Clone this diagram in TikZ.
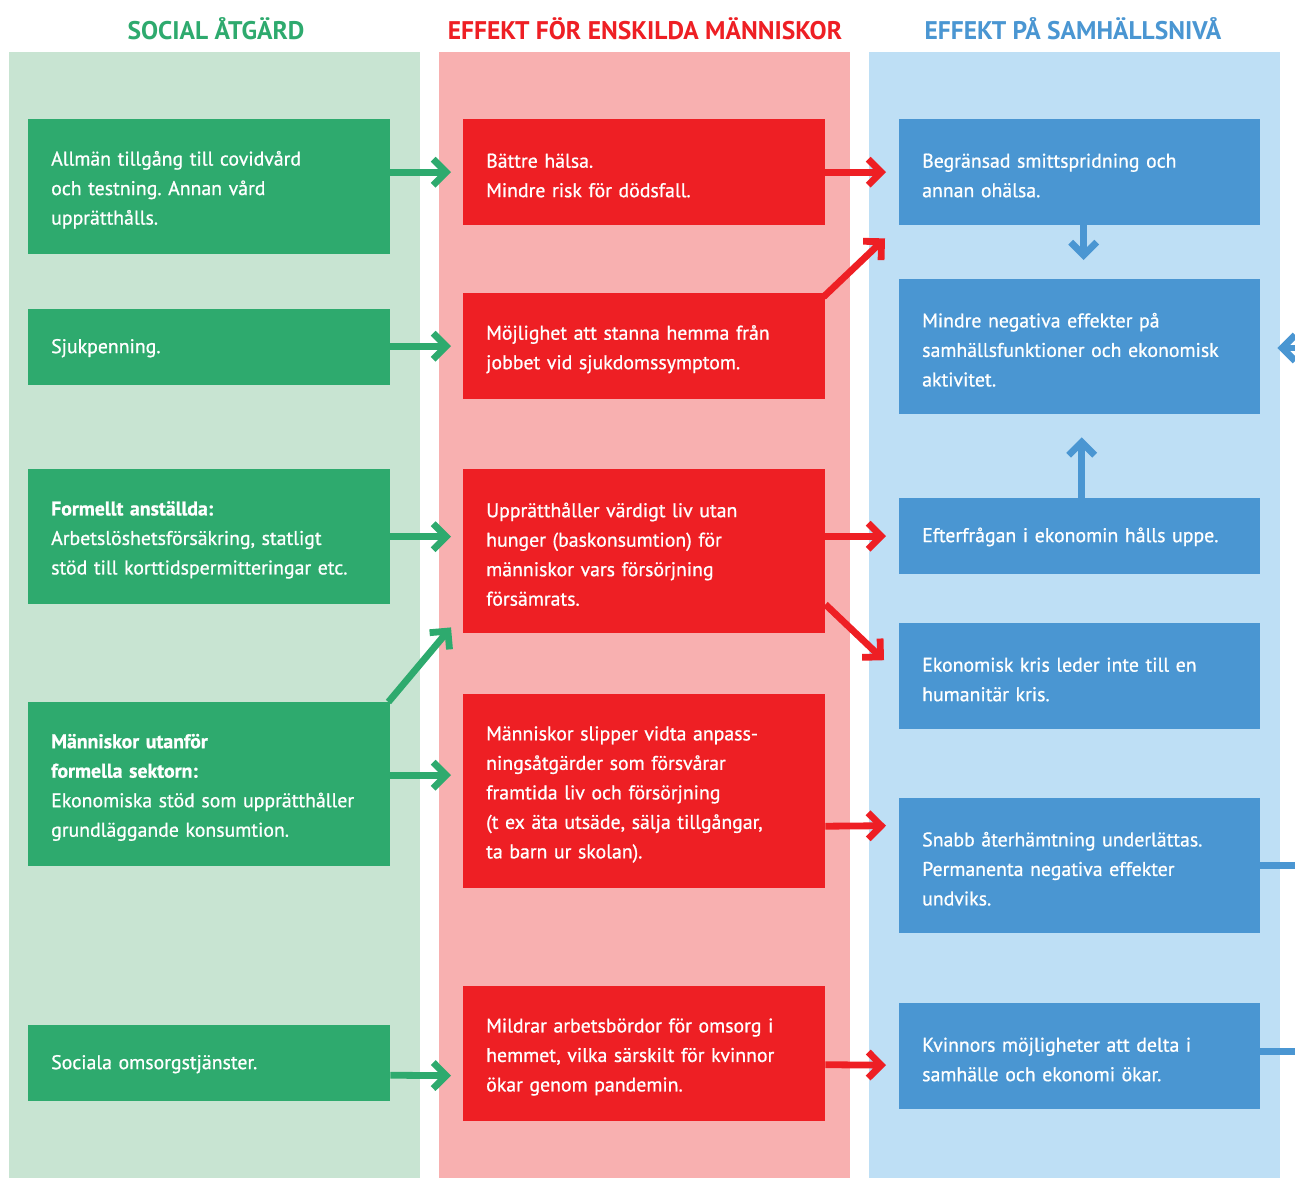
\documentclass[tikz,border=0pt]{standalone}
\usepackage{fontspec}
\setmainfont{PT Sans}
\newfontfamily\boxfont{PT Sans}[FakeBold=0.8]
\usetikzlibrary{arrows.meta}
\definecolor{gdark}{HTML}{2EAA6E}
\definecolor{glight}{HTML}{C8E4D2}
\definecolor{rdark}{HTML}{EE1F24}
\definecolor{rlight}{HTML}{F8B0B0}
\definecolor{bdark}{HTML}{4A96D2}
\definecolor{blight}{HTML}{BEDFF5}
\frenchspacing

\begin{document}
\begin{tikzpicture}[x=1pt,y=-1pt]
			\tikzset{box/.style={anchor=north west,inner xsep=23pt,inner ysep=0pt,text width=316pt,align=left,text=white,font=\boxfont\fontsize{19.8}{29.5}\selectfont,execute at begin node={\strut}}}
			\tikzset{gbox/.style={box,fill=gdark},rbox/.style={box,fill=rdark},bbox/.style={box,fill=bdark,text width=315pt}}
			\tikzset{head/.style={font=\fontsize{25.5}{28}\selectfont\bfseries}}
			\tikzset{link/.style={line width=6.8pt,-{Straight Barb[length=13pt,width=26pt]}},garrow/.style={link,draw=gdark},rarrow/.style={link,draw=rdark},barrow/.style={link,draw=bdark}}
			\useasboundingbox (0,0) rectangle (1295,1178);
			\fill[white] (0,0) rectangle (1295,1178);
			\fill[glight] (9,52) rectangle (420,1178);
			\fill[rlight] (439,52) rectangle (850,1178);
			\fill[blight] (869,52) rectangle (1280,1178);
			\node[head,text=gdark] (hsocial) at (216,29) {SOCIAL ÅTGÄRD};
			\node[head,text=rdark] (hindivid) at (645,29) {EFFEKT FÖR ENSKILDA MÄNNISKOR};
			\node[head,text=bdark] (hsamh) at (1073,29) {EFFEKT PÅ SAMHÄLLSNIVÅ};
			% social åtgärd
			\node[gbox,minimum height=135pt] (g1) at (28,119) {Allmän tillgång till covidvård\\och testning. Annan vård\\upprätthålls.};
			\node[gbox,minimum height=76pt] (g2) at (28,309) {Sjukpenning.};
			\node[gbox,minimum height=135pt] (g3) at (28,469) {\textbf{Formellt anställda:}\\Arbetslöshetsförsäkring, statligt\\stöd till korttidspermitteringar etc.};
			\node[gbox,minimum height=164pt] (g4) at (28,702) {\textbf{Människor utanför}\\\textbf{formella sektorn:}\\Ekonomiska stöd som upprätthåller\\grundläggande konsumtion.};
			\node[gbox,minimum height=76pt] (g5) at (28,1025) {Sociala omsorgstjänster.};
			% effekt för enskilda
			\node[rbox,minimum height=106pt] (r1) at (463,119) {Bättre hälsa.\\Mindre risk för dödsfall.};
			\node[rbox,minimum height=106pt] (r2) at (463,293) {Möjlighet att stanna hemma från\\jobbet vid sjukdomssymptom.};
			\node[rbox,minimum height=164pt] (r3) at (463,469) {Upprätthåller värdigt liv utan\\hunger (baskonsumtion) för\\människor vars försörjning\\försämrats.};
			\node[rbox,minimum height=194pt] (r4) at (463,694) {Människor slipper vidta anpass-\\ningsåtgärder som försvårar\\framtida liv och försörjning\\(t ex äta utsäde, sälja tillgångar,\\ta barn ur skolan).};
			\node[rbox,minimum height=135pt] (r5) at (463,986) {Mildrar arbetsbördor för omsorg i\\hemmet, vilka särskilt för kvinnor\\ökar genom pandemin.};
			% effekt på samhällsnivå
			\node[bbox,minimum height=106pt] (b1) at (899,119) {Begränsad smittspridning och\\annan ohälsa.};
			\node[bbox,minimum height=135pt] (b2) at (899,279) {Mindre negativa effekter på\\samhällsfunktioner och ekonomisk\\aktivitet.};
			\node[bbox,minimum height=76pt] (b3) at (899,498) {Efterfrågan i ekonomin hålls uppe.};
			\node[bbox,minimum height=106pt] (b4) at (899,623) {Ekonomisk kris leder inte till en\\humanitär kris.};
			\node[bbox,minimum height=135pt] (b5) at (899,798) {Snabb återhämtning underlättas.\\Permanenta negativa effekter\\undviks.};
			\node[bbox,minimum height=106pt] (b6) at (899,1003) {Kvinnors möjligheter att delta i\\samhälle och ekonomi ökar.};
			\coordinate (loop) at (1320,348);
			% connectors
			\draw[garrow] (g1.east |- r1.west) -- ([xshift=-12pt]r1.west);
			\draw[garrow] (g2.east |- r2.west) -- ([xshift=-12pt]r2.west);
			\draw[garrow] (g3.east) -- ([xshift=-12pt]r3.west |- g3.east);
			\draw[garrow] ([xshift=-2pt]g4.north east) -- ([xshift=-12pt,yshift=6pt]r3.south west);
			\draw[garrow] ([yshift=9pt]g4.east) -- ([xshift=-12pt,yshift=16pt]r4.west);
			\draw[garrow] ([yshift=-12pt]g5.east) -- ([xshift=-12pt,yshift=-22pt]r5.west);
			\draw[rarrow] (r1.east |- b1.west) -- ([xshift=-13pt]b1.west);
			\draw[rarrow] ([xshift=-2pt,yshift=-4pt]r2.north east) -- ([xshift=-14pt,yshift=-13pt]b1.south west);
			\draw[rarrow] (r3.east |- b3.west) -- ([xshift=-13pt]b3.west);
			\draw[rarrow] ([yshift=29pt]r3.south east) -- ([xshift=-15pt,yshift=16pt]b4.west);
			\draw[rarrow] ([yshift=-35pt]r4.east) -- ([xshift=-13pt,yshift=40pt]b5.west);
			\draw[rarrow] ([yshift=-11pt]r5.east) -- ([xshift=-13pt,yshift=-9pt]b6.west);
			\draw[barrow] ([xshift=4pt]b1.south) -- ([xshift=4pt,yshift=19pt]b2.north);
			\draw[barrow] ([xshift=2pt]b3.north) -- ([xshift=2pt,yshift=-23pt]b2.south);
			\draw[barrow,-] (b5.east) -- (b5.east -| loop);
			\draw[barrow] ([yshift=5pt]b6.east) -- ([yshift=5pt]b6.east -| loop) -- (loop) -- ([xshift=17pt]b2.east |- loop);
\end{tikzpicture}
\end{document}
